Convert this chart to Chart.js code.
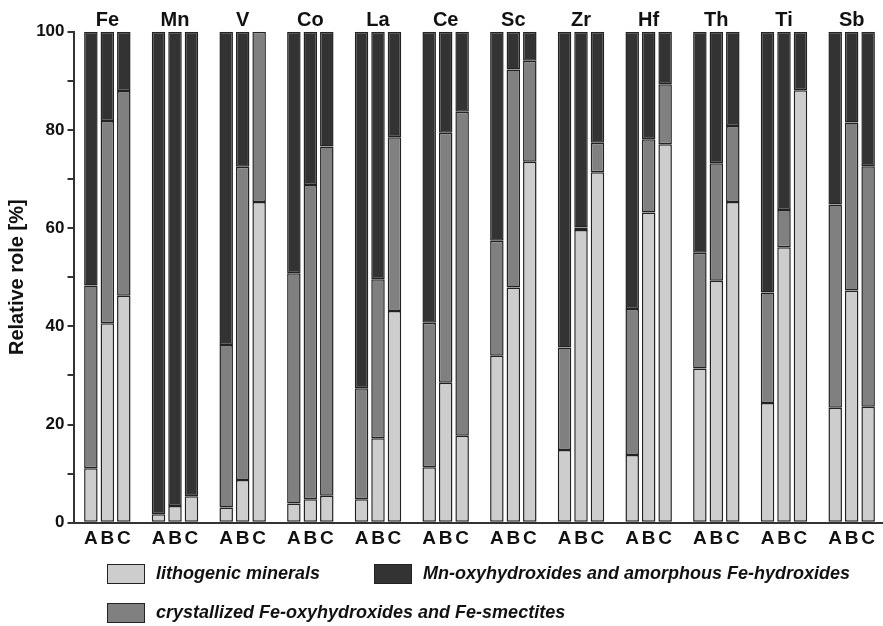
<!DOCTYPE html>
<html>
<head>
<meta charset="utf-8">
<script src="https://cdn.jsdelivr.net/npm/chart.js@4"></script>
<style>
    html, body { margin: 0; padding: 0; background: #fff; overflow: hidden; }
    #wrap { position: relative; width: 890px; height: 626px; }
    #chart { position: absolute; left: 0; top: 0; }
    #legend {
        position: absolute;
        left: 107px;
        top: 563px;
        display: grid;
        grid-template-columns: 267px auto;
        row-gap: 18px;
        font-family: 'Liberation Sans', Arial, sans-serif;
        font-weight: bold;
        font-style: italic;
        font-size: 18px;
        color: #111;
        white-space: nowrap;
    }
    .legend-item { display: flex; align-items: center; height: 21px; }
    .legend-box {
        width: 36px;
        height: 18px;
        border: 1.5px solid #222;
        margin-right: 11px;
        flex: none;
    }
</style>
</head>
<body>
<div id="wrap">
    <canvas id="chart" width="890" height="626"></canvas>
    <div id="legend"></div>
</div>
<script>
const elements = ['Fe', 'Mn', 'V', 'Co', 'La', 'Ce', 'Sc', 'Zr', 'Hf', 'Th', 'Ti', 'Sb'];
const samples = ['A', 'B', 'C'];

const componentNames = [
    'lithogenic minerals',
    'crystallized Fe-oxyhydroxides and Fe-smectites',
    'Mn-oxyhydroxides and amorphous Fe-hydroxides',
];
const componentColors = ['#cdcdcd', '#808080', '#333333'];

// share of each fraction [%], one value per element
const lithA = [11.1, 1.7, 3.1, 3.9, 4.8, 11.3, 34.0, 14.8, 13.8, 31.4, 24.4, 23.4];
const crystA = [37.2, 0, 33.1, 46.9, 22.6, 29.4, 23.4, 20.9, 29.7, 23.6, 22.5, 41.4];
const mnA = [51.7, 98.3, 63.8, 49.2, 72.6, 59.3, 42.6, 64.3, 56.5, 45.0, 53.1, 35.2];

const lithB = [40.6, 3.4, 8.7, 4.8, 17.2, 28.5, 47.9, 59.6, 63.2, 49.3, 56.1, 47.3];
const crystB = [41.2, 0, 63.8, 64.0, 32.4, 50.9, 44.4, 0.5, 14.9, 23.9, 7.6, 34.2];
const mnB = [18.2, 96.6, 27.5, 31.2, 50.4, 20.6, 7.7, 39.9, 21.9, 26.8, 36.3, 18.5];

const lithC = [46.2, 5.4, 65.3, 5.5, 43.1, 17.7, 73.5, 71.4, 77.1, 65.3, 88.1, 23.6];
const crystC = [41.7, 0, 34.7, 71.1, 35.4, 66.0, 20.6, 6.0, 12.2, 15.5, 0, 49.0];
const mnC = [12.1, 94.6, 0, 23.4, 21.5, 16.3, 5.9, 22.6, 10.7, 19.2, 11.9, 27.4];

const sampleSeries = {
    A: [lithA, crystA, mnA],
    B: [lithB, crystB, mnB],
    C: [lithC, crystC, mnC],
};

Chart.defaults.font.family = "'Liberation Sans', Arial, sans-serif";
Chart.defaults.color = '#111';

const datasets = [];
for (const sample of samples) {
    sampleSeries[sample].forEach((values, i) => {
        datasets.push({
            label: componentNames[i],
            data: values,
            stack: sample,
            backgroundColor: componentColors[i],
            borderColor: '#222',
            borderWidth: 1.5,
            borderSkipped: false,
        });
    });
}

// element names above the groups, sample letters under each bar
const groupLabels = {
    id: 'groupLabels',
    afterDraw(chart) {
        const { ctx, scales } = chart;
        ctx.save();
        ctx.fillStyle = '#111';
        ctx.textAlign = 'center';
        ctx.textBaseline = 'middle';
        ctx.font = "bold 20px 'Liberation Sans', Arial, sans-serif";
        elements.forEach((name, j) => {
            ctx.fillText(name, scales.x.getPixelForValue(j), 20);
        });
        ctx.font = "bold 19px 'Liberation Sans', Arial, sans-serif";
        samples.forEach((sample, s) => {
            const meta = chart.getDatasetMeta(s * 3);
            meta.data.forEach((bar) => {
                ctx.fillText(sample, bar.x, 539);
            });
        });
        ctx.restore();
    },
};

new Chart(document.getElementById('chart'), {
    type: 'bar',
    data: { labels: elements, datasets },
    options: {
        responsive: false,
        animation: false,
        categoryPercentage: 0.73,
        barPercentage: 0.82,
        layout: { padding: { top: 31.7, bottom: 103.3, left: 0, right: 4.5 } },
        plugins: {
            legend: { display: false },
            tooltip: { enabled: false },
        },
        scales: {
            x: {
                stacked: true,
                offset: true,
                grid: { display: false },
                ticks: { display: false },
                border: { color: '#333', width: 2 },
                afterFit: (scale) => {
                    scale.height = 0;
                },
            },
            y: {
                stacked: true,
                min: 0,
                max: 100,
                ticks: {
                    stepSize: 10,
                    callback: (v) => (v % 20 === 0 ? v : ''),
                    font: { size: 17, weight: 'bold' },
                    padding: 3,
                },
                grid: {
                    drawOnChartArea: false,
                    tickLength: 6,
                    color: '#333',
                    lineWidth: 2,
                },
                border: { color: '#333', width: 2 },
                title: {
                    display: true,
                    text: 'Relative role [%]',
                    font: { size: 20, weight: 'bold' },
                    padding: { top: 5, bottom: 0 },
                },
                afterFit: (scale) => {
                    scale.width = 73.5;
                },
            },
        },
    },
    plugins: [groupLabels],
});

// legend in two columns, ordered as in the figure
const legendOrder = [0, 2, 1];
const legendEl = document.getElementById('legend');
for (const i of legendOrder) {
    const item = document.createElement('div');
    item.className = 'legend-item';
    const box = document.createElement('span');
    box.className = 'legend-box';
    box.style.background = componentColors[i];
    const text = document.createElement('span');
    text.textContent = componentNames[i];
    item.appendChild(box);
    item.appendChild(text);
    legendEl.appendChild(item);
}
</script>
</body>
</html>
